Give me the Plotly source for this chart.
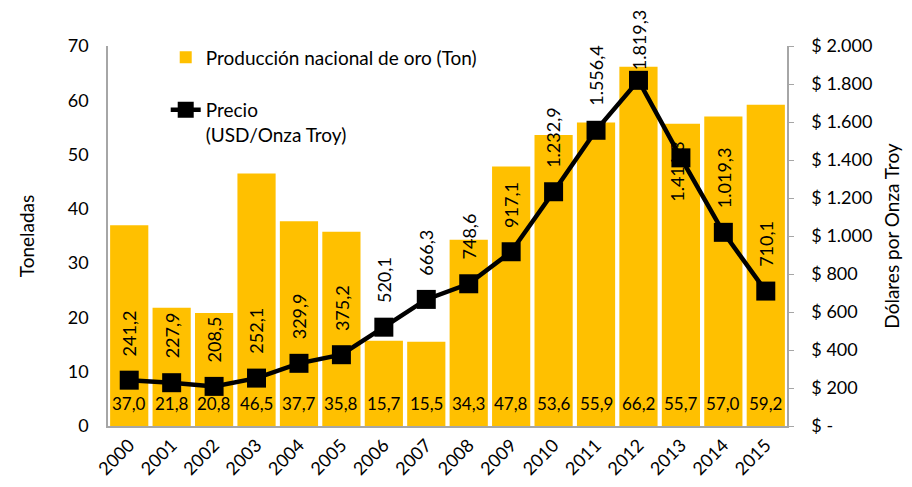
import plotly.graph_objects as go

years = list(range(2000, 2016))
year_labels = [str(y) for y in years]
production = [37.0, 21.8, 20.8, 46.5, 37.7, 35.8, 15.7, 15.5, 34.3, 47.8, 53.6, 55.9, 66.2, 55.7, 57.0, 59.2]
price = [241.2, 227.9, 208.5, 252.1, 329.9, 375.2, 520.1, 666.3, 748.6, 917.1, 1232.9, 1556.4, 1819.3, 1411.3, 1019.3, 710.1]
right_ticks = [0, 200, 400, 600, 800, 1000, 1200, 1400, 1600, 1800, 2000]
right_ticktext = ["$ -", "$ 200", "$ 400", "$ 600", "$ 800", "$ 1.000", "$ 1.200", "$ 1.400", "$ 1.600", "$ 1.800", "$ 2.000"]

def es(v, dec=1):
    s = f"{v:,.{dec}f}"
    return s.replace(",", "X").replace(".", ",").replace("X", ".")

FONT = "Lato, Open Sans, sans-serif"
GOLD = "#FFC000"
AXIS = "#A6A6A6"

fig = go.Figure()
fig.add_trace(go.Bar(
    x=years, y=production, name="Producción nacional de oro (Ton)<br> ",
    marker=dict(color=GOLD, line=dict(width=0)),
))
fig.add_trace(go.Scatter(
    x=years, y=price, yaxis="y2", name="Precio<br>(USD/Onza Troy)",
    mode="lines+markers",
    line=dict(color="black", width=4.5),
    marker=dict(symbol="square", size=19, color="black"),
))

# bar value labels near the bottom of each bar
for yr, v in zip(years, production):
    fig.add_annotation(x=yr, y=0, xref="x", yref="y", text=es(v), showarrow=False,
                       yanchor="middle", yshift=23,
                       font=dict(size=17, color="black", family=FONT))

# price labels, rotated
for yr, p in zip(years, price):
    if yr == 2013:
        fig.add_annotation(x=yr, y=p, xref="x", yref="y2", text=es(p), textangle=-90,
                           showarrow=False, yanchor="middle", yshift=-13, xshift=-4,
                           font=dict(size=18, color="black", family=FONT))
    elif yr == 2012:
        fig.add_annotation(x=yr, y=p, xref="x", yref="y2", text=es(p), textangle=-90,
                           showarrow=False, yanchor="bottom", yshift=8,
                           font=dict(size=18, color="black", family=FONT))
    else:
        fig.add_annotation(x=yr, y=p, xref="x", yref="y2", text=es(p), textangle=-90,
                           showarrow=False, yanchor="bottom", yshift=22,
                           font=dict(size=18, color="black", family=FONT))

fig.update_layout(
    width=912, height=487,
    margin=dict(l=100, r=133, t=38, b=69),
    paper_bgcolor="white", plot_bgcolor="white",
    font=dict(family=FONT, size=18, color="black"),
    bargap=0.1,
    showlegend=True,
    legend=dict(x=0.085, y=1.02, xanchor="left", yanchor="top", bgcolor="rgba(0,0,0,0)",
                font=dict(size=19, family=FONT), valign="top"),
    xaxis=dict(range=[1999.5, 2015.5], tickvals=years, ticktext=year_labels, tickangle=-45,
               showline=True, linecolor=AXIS, linewidth=1.5,
               showgrid=False, zeroline=False, ticks="", tickfont=dict(size=18)),
    yaxis=dict(range=[0, 70], dtick=10, showline=True, linecolor=AXIS, linewidth=1.5,
               showgrid=False, zeroline=False, ticks="", tickfont=dict(size=18),
               ticklabelstandoff=14,
               title=dict(text="Toneladas", font=dict(size=19), standoff=28)),
    yaxis2=dict(range=[0, 2000], overlaying="y", side="right", tickvals=right_ticks, ticktext=right_ticktext,
                showline=True, linecolor=AXIS, linewidth=1.5, showgrid=False, zeroline=False,
                ticks="outside", ticklen=5, tickcolor=AXIS, tickfont=dict(size=18),
                ticklabelstandoff=14,
                title=dict(text="Dólares por Onza Troy", font=dict(size=19), standoff=14)),
)

fig.write_html("out.html")
